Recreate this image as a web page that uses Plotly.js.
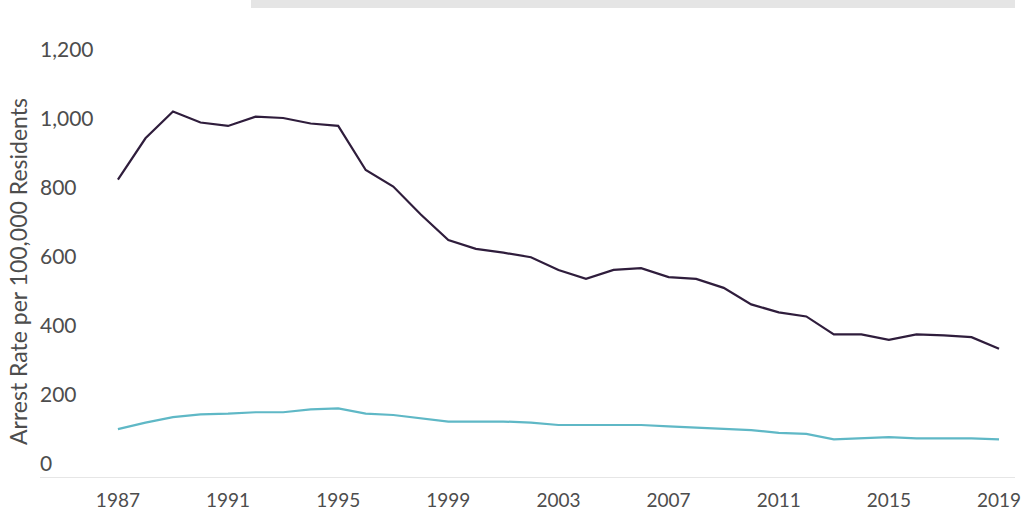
<!DOCTYPE html>
<html>
<head>
<meta charset="utf-8">
<script src="https://cdn.plot.ly/plotly-3.0.1.min.js"></script>
<style>
  html, body { margin: 0; padding: 0; background: #fff; }
  #plot { width: 1024px; height: 512px; }
</style>
</head>
<body>
<div id="plot"></div>
<script>
"use strict";

// Years 1987–2019, rate per 100,000 residents
const years = [1987, 1988, 1989, 1990, 1991, 1992, 1993, 1994, 1995, 1996, 1997,
               1998, 1999, 2000, 2001, 2002, 2003, 2004, 2005, 2006, 2007, 2008,
               2009, 2010, 2011, 2012, 2013, 2014, 2015, 2016, 2017, 2018, 2019];
const darkSeries = [823, 943, 1021, 989, 979, 1006, 1002, 986, 979, 851, 803,
                    722, 648, 622, 611, 598, 561, 535, 561, 566, 540, 535,
                    509, 461, 438, 426, 374, 374, 358, 374, 371, 366, 332];
const tealSeries = [99, 118, 134, 142, 144, 148, 148, 156, 159, 144, 140,
                    131, 121, 121, 121, 118, 111, 111, 111, 111, 107, 103,
                    99, 96, 88, 85, 69, 72, 76, 72, 72, 72, 69];
const yTicks = [0, 200, 400, 600, 800, 1000, 1200];
const xTicks = [1987, 1991, 1995, 1999, 2003, 2007, 2011, 2015, 2019];

const FONT = "Lato, 'Open Sans', sans-serif";
const TEXT = "#4d4d4d";

const traces = [
    { type: "scatter", mode: "lines", x: years, y: darkSeries,
      line: { color: "#2f1d3c", width: 2.2 }, hoverinfo: "x+y",
      showlegend: false },
    { type: "scatter", mode: "lines", x: years, y: tealSeries,
      line: { color: "#5fb8c6", width: 2.2 }, hoverinfo: "x+y",
      showlegend: false },
];

const layout = {
    width: 1024, height: 512,
    margin: { l: 40, r: 9, t: 36, b: 35 },
    paper_bgcolor: "#fff", plot_bgcolor: "#fff",
    font: { family: FONT, color: TEXT },
    showlegend: false,
    xaxis: {
        range: [1984.17, 2019.58],
        tickvals: xTicks, ticktext: xTicks.map(String),
        tickfont: { size: 19, color: TEXT },
        showgrid: false, zeroline: false,
        showline: true, linecolor: "#e6e6e6", linewidth: 1,
        ticks: "", ticklabelstandoff: 6,
    },
    yaxis: {
        range: [-40, 1240],
        tickvals: yTicks, tickformat: ",",
        tickfont: { size: 21, color: TEXT },
        ticklabelposition: "inside",
        ticklabelstandoff: -3,
        showgrid: false, zeroline: false, showline: false,
        ticks: "",
    },
    // y-axis caption sits a bit below the plot centre, so place it as an annotation
    annotations: [
        { text: "Arrest Rate per 100,000 Residents", textangle: -90,
          xref: "paper", yref: "y", x: 0, y: 555,
          xanchor: "right", yanchor: "middle", xshift: -6,
          showarrow: false, font: { size: 23, color: TEXT, family: FONT } },
    ],
    // tab strip across the top of the panel
    shapes: [
        { type: "rect", xref: "paper", yref: "paper",
          x0: (251 - 40) / 975, x1: 1, y0: 1 + 28 / 441, y1: 1 + 36 / 441,
          fillcolor: "#e5e5e5", line: { width: 0 } },
    ],
};

Plotly.newPlot("plot", traces, layout, { displayModeBar: false, staticPlot: true });
</script>
</body>
</html>
